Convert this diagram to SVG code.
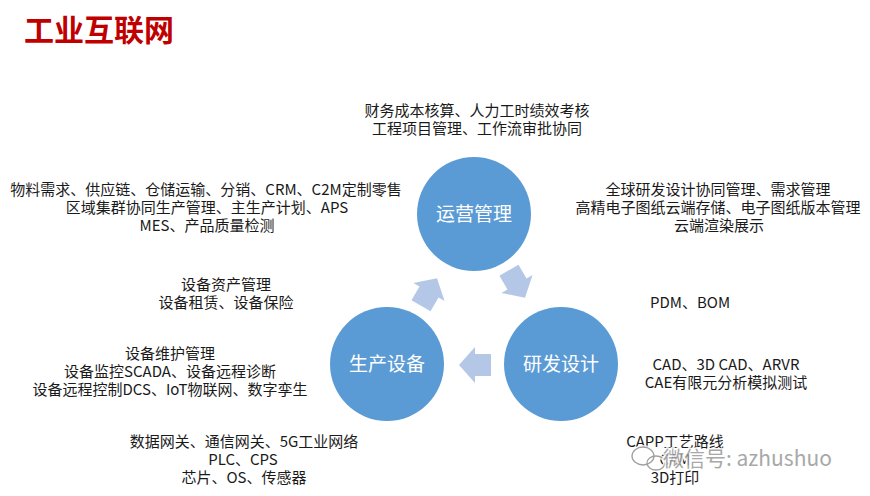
<svg xmlns="http://www.w3.org/2000/svg" width="870" height="496" viewBox="0 0 870 496">
  <style>
    .t { font-family: "Noto Sans CJK SC", "Liberation Sans", sans-serif; font-size: 15px; fill: #1a1a1a; text-anchor: middle; }
    .c { fill: #5B9BD5; }
    .cl { font-family: "Noto Sans CJK SC", "Liberation Sans", sans-serif; font-size: 19px; fill: #ffffff; text-anchor: middle; }
    .arr { fill: #B4C7E7; }
    .wm { font-family: "Noto Sans CJK SC", "Liberation Sans", sans-serif; font-size: 21px; fill: #999999; stroke: #ffffff; stroke-width: 3; paint-order: stroke; opacity: 0.85; }
  </style>
  <defs>
    <polygon id="blk" points="-16,-11 0,-11 0,-18 16,0 0,18 0,11 -16,11"/>
  </defs>
  <rect width="870" height="496" fill="#ffffff"/>

  <text x="24" y="41" font-family="Noto Sans CJK SC, sans-serif" font-size="30" font-weight="bold" fill="#C00000">工业互联网</text>

  <g id="connectors">
    <use href="#blk" class="arr" transform="translate(429,292) rotate(-60)"/>
    <use href="#blk" class="arr" transform="translate(517,284) rotate(60)"/>
    <use href="#blk" class="arr" transform="translate(475,365) rotate(180)"/>
  </g>

  <g id="node-yunying">
    <circle class="c" cx="474" cy="214" r="57"/>
    <text class="cl" x="474" y="221">运营管理</text>
  </g>
  <g id="node-shengchan">
    <circle class="c" cx="387" cy="364" r="57"/>
    <text class="cl" x="387" y="371">生产设备</text>
  </g>
  <g id="node-yanfa">
    <circle class="c" cx="561" cy="364" r="57"/>
    <text class="cl" x="561" y="371">研发设计</text>
  </g>

  <g id="text-top">
    <text class="t" x="477" y="116">财务成本核算、人力工时绩效考核</text>
    <text class="t" x="477" y="134">工程项目管理、工作流审批协同</text>
  </g>
  <g id="text-left">
    <text class="t" x="206" y="195">物料需求、供应链、仓储运输、分销、CRM、C2M定制零售</text>
    <text class="t" x="207" y="213">区域集群协同生产管理、主生产计划、APS</text>
    <text class="t" x="207" y="231">MES、产品质量检测</text>
  </g>
  <g id="text-right">
    <text class="t" x="718" y="195">全球研发设计协同管理、需求管理</text>
    <text class="t" x="718" y="213">高精电子图纸云端存储、电子图纸版本管理</text>
    <text class="t" x="719" y="231">云端渲染展示</text>
  </g>
  <g id="text-asset">
    <text class="t" x="226" y="290">设备资产管理</text>
    <text class="t" x="226" y="308">设备租赁、设备保险</text>
  </g>
  <g id="text-maint">
    <text class="t" x="170" y="359">设备维护管理</text>
    <text class="t" x="170" y="377">设备监控SCADA、设备远程诊断</text>
    <text class="t" x="170" y="395">设备远程控制DCS、IoT物联网、数字孪生</text>
  </g>
  <g id="text-bottom-left">
    <text class="t" x="244" y="447">数据网关、通信网关、5G工业网络</text>
    <text class="t" x="243" y="465">PLC、CPS</text>
    <text class="t" x="244" y="483">芯片、OS、传感器</text>
  </g>
  <g id="text-pdm">
    <text class="t" x="690" y="308">PDM、BOM</text>
  </g>
  <g id="text-cad">
    <text class="t" x="726" y="370">CAD、3D CAD、ARVR</text>
    <text class="t" x="726" y="388">CAE有限元分析模拟测试</text>
  </g>
  <g id="text-bottom-right">
    <text class="t" x="675" y="447">CAPP工艺路线</text>
    <text class="t" x="675" y="465">CAM</text>
    <text class="t" x="675" y="483">3D打印</text>
  </g>

  <g id="watermark">
    <g fill="none" stroke="#ffffff" stroke-width="4" opacity="0.8">
      <ellipse cx="643" cy="456" rx="11" ry="9"/>
      <ellipse cx="656" cy="463" rx="9" ry="7"/>
    </g>
    <g fill="none" stroke="#a0a0a0" stroke-width="1.3">
      <ellipse cx="643" cy="456" rx="11" ry="9"/>
      <ellipse cx="656" cy="463" rx="9" ry="7"/>
    </g>
    <text class="wm" x="663" y="466">微信号: azhushuo</text>
  </g>
</svg>
